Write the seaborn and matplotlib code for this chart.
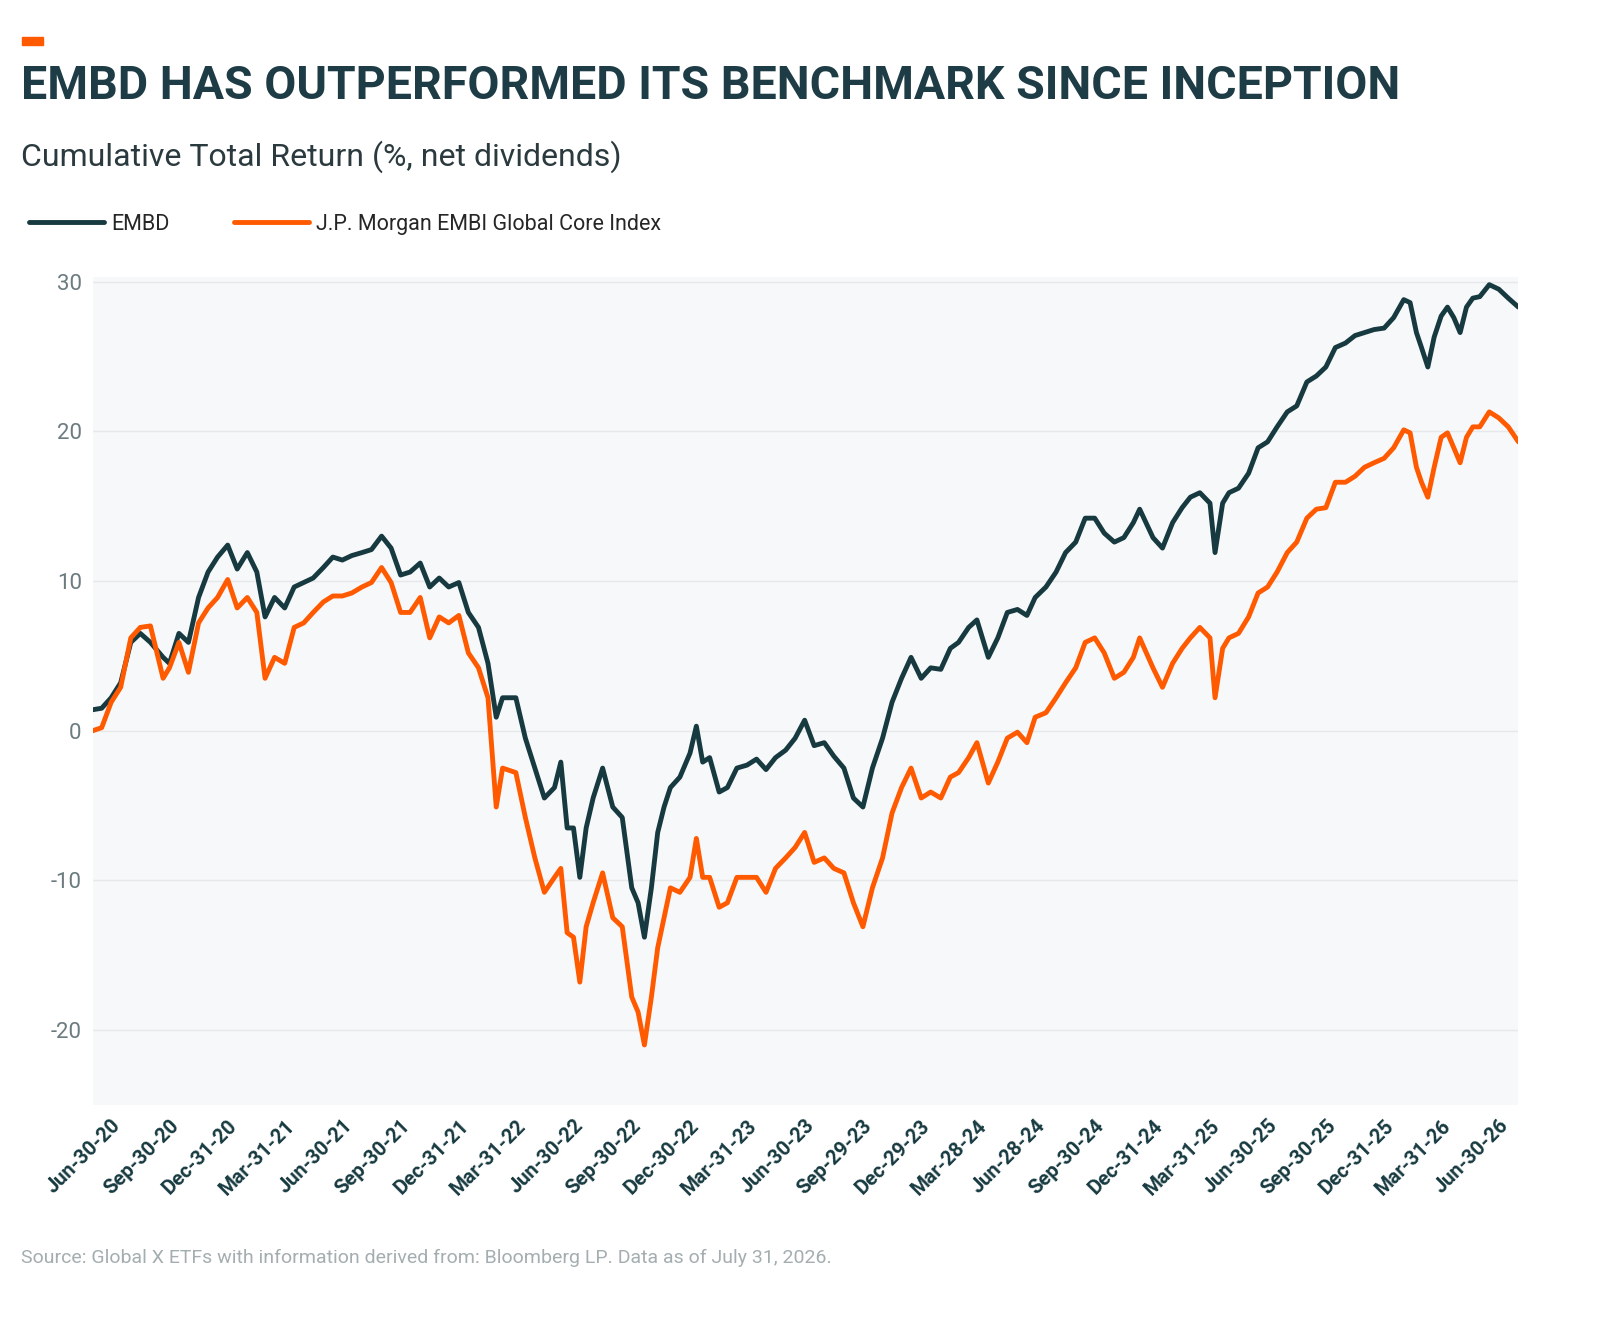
import matplotlib
matplotlib.use("Agg")
import matplotlib.pyplot as plt
import matplotlib.patches as mpatches
import seaborn as sns
import pandas as pd

dates = [
 "2020-06-01","2020-06-15","2020-06-30","2020-07-15","2020-07-31","2020-08-15","2020-08-31","2020-09-20","2020-09-30","2020-10-15","2020-10-30","2020-11-15","2020-11-30","2020-12-15","2020-12-31",
 "2021-01-15","2021-01-31","2021-02-15","2021-02-28","2021-03-15","2021-03-31","2021-04-15","2021-04-30","2021-05-15","2021-05-31","2021-06-15","2021-06-30","2021-07-15","2021-07-31","2021-08-15","2021-08-31","2021-09-15","2021-09-30","2021-10-15","2021-10-31","2021-11-15","2021-11-30","2021-12-15","2021-12-31",
 "2022-01-15","2022-01-31","2022-02-15","2022-02-28","2022-03-10","2022-03-31","2022-04-15","2022-04-30","2022-05-15","2022-05-31","2022-06-10","2022-06-20","2022-06-30","2022-07-10","2022-07-20","2022-07-31","2022-08-15","2022-08-31","2022-09-15","2022-09-30","2022-10-10","2022-10-20","2022-10-31","2022-11-10","2022-11-20","2022-11-30","2022-12-15","2022-12-31",
 "2023-01-10","2023-01-20","2023-01-31","2023-02-15","2023-02-28","2023-03-15","2023-03-31","2023-04-15","2023-04-30","2023-05-15","2023-05-31","2023-06-15","2023-06-30","2023-07-15","2023-07-31","2023-08-15","2023-08-31","2023-09-15","2023-09-30","2023-10-15","2023-10-31","2023-11-15","2023-11-30","2023-12-15","2023-12-31",
 "2024-01-15","2024-01-31","2024-02-15","2024-02-28","2024-03-15","2024-03-28","2024-04-15","2024-04-30","2024-05-15","2024-05-31","2024-06-15","2024-06-28","2024-07-15","2024-07-31","2024-08-15","2024-08-31","2024-09-15","2024-09-30","2024-10-15","2024-10-31","2024-11-15","2024-11-30","2024-12-10","2024-12-31",
 "2025-01-15","2025-01-31","2025-02-15","2025-02-28","2025-03-15","2025-03-31","2025-04-08","2025-04-20","2025-04-30","2025-05-15","2025-05-31","2025-06-15","2025-06-30","2025-07-15","2025-07-31","2025-08-15","2025-08-31","2025-09-15","2025-09-30","2025-10-15","2025-10-31","2025-11-15","2025-11-30","2025-12-15","2025-12-31",
 "2026-01-15","2026-01-31","2026-02-10","2026-02-20","2026-02-28","2026-03-10","2026-03-20","2026-03-31","2026-04-10","2026-04-20","2026-04-30","2026-05-10","2026-05-20","2026-05-31","2026-06-15","2026-06-30","2026-07-15","2026-07-31",
]

embd = [
 1.4,1.5,2.2,3.2,5.9,6.5,5.9,4.9,4.5,6.5,5.9,8.9,10.6,11.6,12.4,
 10.8,11.9,10.6,7.6,8.9,8.2,9.6,9.9,10.2,10.9,11.6,11.4,11.7,11.9,12.1,13.0,12.2,10.4,10.6,11.2,9.6,10.2,9.6,9.9,
 7.9,6.9,4.5,0.9,2.2,2.2,-0.5,-2.5,-4.5,-3.8,-2.1,-6.5,-6.5,-9.8,-6.5,-4.5,-2.5,-5.1,-5.8,-10.5,-11.5,-13.8,-10.5,-6.8,-5.1,-3.8,-3.1,-1.5,
 0.3,-2.1,-1.8,-4.1,-3.8,-2.5,-2.3,-1.9,-2.6,-1.8,-1.3,-0.5,0.7,-1.0,-0.8,-1.7,-2.5,-4.5,-5.1,-2.5,-0.5,1.9,3.5,4.9,3.5,
 4.2,4.1,5.5,5.9,6.9,7.4,4.9,6.2,7.9,8.1,7.7,8.9,9.6,10.6,11.9,12.6,14.2,14.2,13.2,12.6,12.9,13.9,14.8,12.9,
 12.2,13.9,14.9,15.6,15.9,15.2,11.9,15.2,15.9,16.2,17.2,18.9,19.3,20.3,21.3,21.7,23.3,23.7,24.3,25.6,25.9,26.4,26.6,26.8,26.9,
 27.6,28.8,28.6,26.6,25.6,24.3,26.3,27.7,28.3,27.6,26.6,28.3,28.9,29.0,29.8,29.5,28.9,28.3,
]

index_ret = [
 0,0.2,1.9,2.9,6.2,6.9,7.0,3.5,4.2,5.9,3.9,7.2,8.2,8.9,10.1,
 8.2,8.9,7.9,3.5,4.9,4.5,6.9,7.2,7.9,8.6,9.0,9.0,9.2,9.6,9.9,10.9,9.9,7.9,7.9,8.9,6.2,7.6,7.2,7.7,
 5.2,4.2,2.2,-5.1,-2.5,-2.8,-5.8,-8.5,-10.8,-9.8,-9.2,-13.5,-13.8,-16.8,-13.1,-11.5,-9.5,-12.5,-13.1,-17.8,-18.8,-21.0,-17.8,-14.5,-12.5,-10.5,-10.8,-9.8,
 -7.2,-9.8,-9.8,-11.8,-11.5,-9.8,-9.8,-9.8,-10.8,-9.2,-8.5,-7.8,-6.8,-8.8,-8.5,-9.2,-9.5,-11.5,-13.1,-10.5,-8.5,-5.5,-3.8,-2.5,-4.5,
 -4.1,-4.5,-3.1,-2.8,-1.8,-0.8,-3.5,-2.1,-0.5,-0.1,-0.8,0.9,1.2,2.2,3.2,4.2,5.9,6.2,5.2,3.5,3.9,4.9,6.2,4.2,
 2.9,4.5,5.5,6.2,6.9,6.2,2.2,5.5,6.2,6.5,7.6,9.2,9.6,10.6,11.9,12.6,14.2,14.8,14.9,16.6,16.6,17.0,17.6,17.9,18.2,
 18.9,20.1,19.9,17.6,16.6,15.6,17.6,19.6,19.9,18.9,17.9,19.6,20.3,20.3,21.3,20.9,20.3,19.3,
]

series_names = ["EMBD", "J.P. Morgan EMBI Global Core Index"]

tick_labels = ["Jun-30-20","Sep-30-20","Dec-31-20","Mar-31-21","Jun-30-21","Sep-30-21","Dec-31-21",
 "Mar-31-22","Jun-30-22","Sep-30-22","Dec-30-22","Mar-31-23","Jun-30-23","Sep-29-23","Dec-29-23",
 "Mar-28-24","Jun-28-24","Sep-30-24","Dec-31-24","Mar-31-25","Jun-30-25","Sep-30-25","Dec-31-25",
 "Mar-31-26","Jun-30-26"]
y_ticks = [-20, -10, 0, 10, 20, 30]

assert len(dates) == len(embd) == len(index_ret)

dt = pd.to_datetime(dates)
df = pd.concat([
    pd.DataFrame({"date": dt, "value": embd, "series": series_names[0]}),
    pd.DataFrame({"date": dt, "value": index_ret, "series": series_names[1]}),
])

DARK = "#173a40"
ORANGE = "#ff5a00"

sns.set_theme(style="white")
plt.rcParams["font.family"] = ["Roboto", "DejaVu Sans"]

fig = plt.figure(figsize=(16, 13.2), dpi=100)
ax = fig.add_axes([0.058, 0.163, 0.891, 0.627])
ax.set_facecolor("#f7f8f9")

sns.lineplot(data=df, x="date", y="value", hue="series", palette=[DARK, ORANGE],
             linewidth=3.5, ax=ax, legend=False)

ax.set_xlim(pd.Timestamp("2020-06-01"), pd.Timestamp("2026-07-31"))
ax.set_ylim(-25, 30.3)
ax.set_yticks(y_ticks)
ax.set_yticklabels([str(v) for v in y_ticks], color="#6b7b80", fontsize=16)
ticks = pd.to_datetime(tick_labels, format="%b-%d-%y")
ax.set_xticks(ticks)
ax.set_xticklabels(tick_labels, rotation=45, ha="right", rotation_mode="anchor",
                   fontsize=14.5, fontweight="bold", color=DARK)
ax.tick_params(axis="both", length=0, pad=8)
ax.grid(axis="y", color="#e6e8ea", linewidth=1)
ax.set_axisbelow(True)
for s in ax.spines.values():
    s.set_visible(False)
ax.set_xlabel("")
ax.set_ylabel("")

fig.patches.append(mpatches.Rectangle((0.014, 0.966), 0.013, 0.006, transform=fig.transFigure,
                                      color=ORANGE, zorder=5))
fig.text(0.013, 0.935, "EMBD HAS OUTPERFORMED ITS BENCHMARK SINCE INCEPTION",
         fontsize=33.5, fontweight="bold", color="#1d3c45", va="center", ha="left")
fig.text(0.013, 0.881, "Cumulative Total Return (%, net dividends)", fontsize=23,
         color="#2b3a3e", va="center", ha="left")

handles = [plt.Line2D([], [], color=DARK, lw=3.5), plt.Line2D([], [], color=ORANGE, lw=3.5)]
fig.legend(handles, series_names, loc="center left", bbox_to_anchor=(0.006, 0.83), ncol=2,
           frameon=False, fontsize=15.5, handlelength=3.5, handletextpad=0.3, columnspacing=3)

fig.text(0.013, 0.047, "Source: Global X ETFs with information derived from: Bloomberg LP. Data as of July 31, 2026.",
         fontsize=14, color="#a4adb0", va="center", ha="left")

fig.savefig("out.png", dpi=100, facecolor="white")
